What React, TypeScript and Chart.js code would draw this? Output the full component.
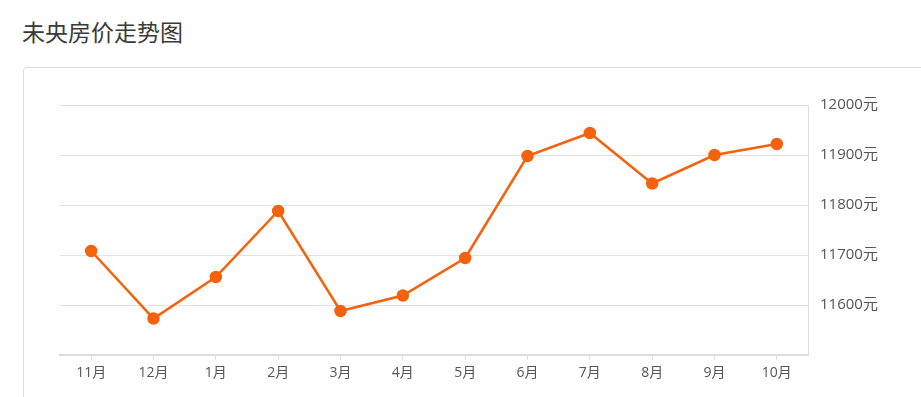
import React, { useEffect, useRef } from "react";
import { Chart, registerables } from "chart.js";

Chart.register(...registerables);

const title = "未央房价走势图";
const months = ["11月", "12月", "1月", "2月", "3月", "4月", "5月", "6月", "7月", "8月", "9月", "10月"];
const prices = [11708, 11573, 11656, 11788, 11588, 11619, 11694, 11898, 11944, 11843, 11900, 11922];
const yMin = 11500;
const yMax = 12000;
const yStep = 100;
const unit = "元";

const FONT = "'Noto Sans CJK SC', 'Noto Sans', sans-serif";
const TICK_FONT = "'Open Sans', 'Noto Sans CJK SC', sans-serif";
const LINE = "#f4620d";

export default function App() {
  const ref = useRef<HTMLCanvasElement | null>(null);

  useEffect(() => {
    if (!ref.current) return;
    const chart = new Chart(ref.current, {
      type: "line",
      data: {
        labels: months,
        datasets: [
          {
            data: prices,
            borderColor: LINE,
            backgroundColor: LINE,
            pointBackgroundColor: LINE,
            pointBorderColor: LINE,
            pointRadius: 5,
            pointHoverRadius: 5,
            borderWidth: 2.5,
            tension: 0,
            fill: false,
          },
        ],
      },
      options: {
        animation: false,
        responsive: false,
        maintainAspectRatio: false,
        layout: { padding: { left: 60, top: 105, right: 0, bottom: 0 } },
        plugins: { legend: { display: false }, tooltip: { enabled: false }, title: { display: false } },
        scales: {
          x: {
            offset: true,
            grid: { display: true, drawOnChartArea: false, drawTicks: true, tickLength: 5, color: "#dddddd", lineWidth: 1 },
            border: { display: true, color: "#dddddd", width: 2 },
            ticks: { color: "#555555", font: { family: TICK_FONT, size: 14 }, padding: 5, maxRotation: 0, autoSkip: false },
            afterFit: (s: any) => {
              s.height = 42;
            },
          },
          y: {
            position: "right",
            min: yMin,
            max: yMax,
            grid: { color: "#e2e2e2", lineWidth: 1, drawTicks: false },
            border: { display: true, color: "#dddddd", width: 1 },
            ticks: {
              stepSize: yStep,
              padding: 12,
              color: "#555555",
              font: { family: TICK_FONT, size: 15 },
              callback: (v: any) => (Number(v) === yMin ? "" : `${v}${unit}`),
            },
            afterFit: (s: any) => {
              s.width = 113;
            },
          },
        },
      },
    });
    return () => chart.destroy();
  }, []);

  return (
    <div style={{ position: "fixed", left: 0, top: 0, width: 921, height: 397, background: "#fff", overflow: "hidden" }}>
      <div
        style={{
          position: "absolute",
          left: 22,
          top: 16,
          fontFamily: FONT,
          fontSize: 23,
          color: "#3a3a3a",
          lineHeight: "30px",
          whiteSpace: "nowrap",
        }}
      >
        {title}
      </div>
      <div
        style={{
          position: "absolute",
          left: 23,
          top: 67,
          width: 940,
          height: 360,
          border: "1px solid #dcdcdc",
          borderRadius: 4,
          boxSizing: "border-box",
        }}
      />
      <canvas ref={ref} width={921} height={397} style={{ position: "absolute", left: 0, top: 0, width: 921, height: 397 }} />
    </div>
  );
}
